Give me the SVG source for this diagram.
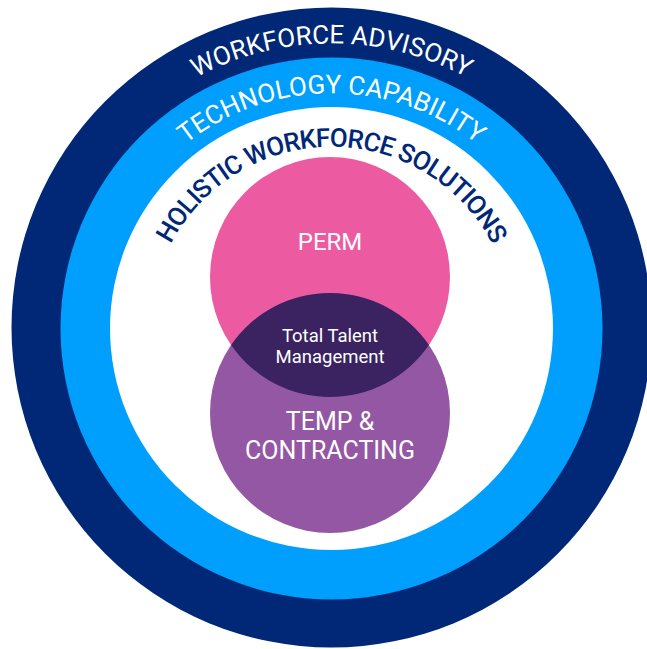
<svg xmlns="http://www.w3.org/2000/svg" width="647" height="649" viewBox="0 0 647 649">
  <defs>
    <style>
      .arc { font-family: Roboto, "Liberation Sans", sans-serif; font-size: 26px; }
      .lbl { font-family: Roboto, "Liberation Sans", sans-serif; fill: #ffffff; text-anchor: middle; }
    </style>
    <path id="arcA" d="M 46.8 328 A 284.7 284.7 0 0 1 616.2 328"/>
    <path id="arcT" d="M 96.8 328 A 234.7 234.7 0 0 1 566.2 328"/>
    <path id="arcH" d="M 150.2 328 A 181.3 181.3 0 0 1 512.8 328"/>
  </defs>
  <rect width="647" height="649" fill="#ffffff"/>
  <g id="ring-advisory">
    <circle cx="331.5" cy="327.5" r="320" fill="#002876"/>
    <text class="arc" fill="#ffffff" font-size="27"><textPath href="#arcA" startOffset="50%" text-anchor="middle">WORKFORCE ADVISORY</textPath></text>
  </g>
  <g id="ring-technology">
    <circle cx="331.5" cy="328.5" r="271" fill="#009FFD"/>
    <text class="arc" fill="#ffffff"><textPath href="#arcT" startOffset="50%" text-anchor="middle">TECHNOLOGY CAPABILITY</textPath></text>
  </g>
  <g id="ring-holistic">
    <circle cx="331.5" cy="328.5" r="221.5" fill="#ffffff"/>
    <text class="arc" fill="#002876" font-weight="500" font-size="24.5" letter-spacing="-0.9"><textPath href="#arcH" startOffset="50%" text-anchor="middle">HOLISTIC WORKFORCE SOLUTIONS</textPath></text>
  </g>
  <g id="node-perm">
    <circle cx="330" cy="277" r="120" fill="#EC5BA2"/>
    <text class="lbl" x="330" y="250" font-size="24">PERM</text>
  </g>
  <g id="node-temp">
    <circle cx="330" cy="413" r="120" fill="#9457A3"/>
    <text class="lbl" x="330" y="430" font-size="25">TEMP &amp;</text>
    <text class="lbl" x="330" y="459" font-size="25">CONTRACTING</text>
  </g>
  <g id="node-ttm">
    <path d="M 231.13 345 A 120 120 0 0 1 428.87 345 A 120 120 0 0 1 231.13 345 Z" fill="#3A2360"/>
    <text class="lbl" x="330" y="342" font-size="18.5">Total Talent</text>
    <text class="lbl" x="330" y="363" font-size="18.5">Management</text>
  </g>
  <g id="connectors"/>
</svg>
